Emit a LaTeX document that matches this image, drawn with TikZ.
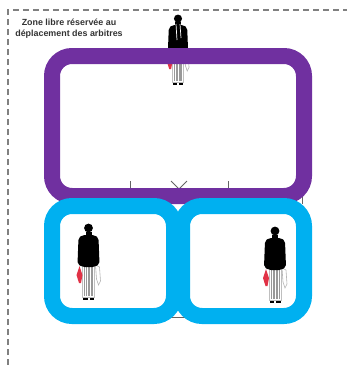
\documentclass[tikz,border=0pt]{standalone}
\usepackage{fontspec}
\setmainfont{Liberation Sans}
\definecolor{zonepurple}{RGB}{112,48,160}
\definecolor{zoneblue}{RGB}{0,176,240}
\definecolor{fieldgray}{RGB}{100,100,100}
\definecolor{flagred}{RGB}{225,50,70}
\tikzset{
  pics/arbitre/.style={code={
    % pieds, jambes, bras clair
    \fill[black] (-5.5,73) rectangle (-1,77);
    \fill[black] (1,73) rectangle (5.5,77);
    \fill[white,draw=gray!50,line width=.5] (-6,40) rectangle (6,74);
    \foreach \s in {-4,-2,-.5,1,2.5,4}
      \draw[gray!80,line width=.5] (\s,42) -- (\s,73);
    \draw[gray!60,line width=.6,fill=white] (7,42) -- (11,44) -- (12,58) -- (10,62) -- (8,56) -- cycle;
    % veste et tete
    \fill[black] (-3,9) rectangle (3,14);
    \fill[black] (0,5) circle (4.4);
    \fill[black,rounded corners=2] (-6,12) -- (6,12) -- (10,15) -- (11,41) -- (6,44) -- (-6,44) -- (-11,41) -- (-10,15) -- cycle;
    % main et drapeau
    \fill[flagred] (-9,43) -- (-6,52) -- (-7.5,60) -- (-9.5,60) -- (-12,52) -- cycle;
  }},
  zonebox/.style={draw=#1,line width=16,rounded corners=20,inner sep=0,fill=none},
  fieldline/.style={draw=fieldgray,line width=1},
  limite/.style={draw=gray,line width=1.2,dash pattern=on 6 off 4},
}
\begin{document}
\begin{tikzpicture}[x=1pt,y=-1pt]
  \useasboundingbox (0,0) rectangle (347,365);

  % Zone libre
  \draw[limite] (8,365) -- (8,10) -- (347,10);
  \node[align=center,font=\bfseries\fontsize{8.9}{11}\selectfont,text=black!80] (zonelibre) at (69,28.5)
    {Zone libre réservée au\\déplacement des arbitres};

  % Arbitre en haut
  \pic[scale=.92] at (178,14) {arbitre};
  \draw[white,line width=.7] (176,24) -- (177,40);
  \draw[white,line width=.7] (180,24) -- (181,38);

  % Lignes du terrain
  \foreach \x in {130.5,228,302}
    \draw[fieldline] (\x,181) -- (\x,204);
  \draw[fieldline] (171,181) -- (179,189) -- (187,181);
  \draw[fieldline] (170,317.5) -- (186,317.5);

  % Terrain
  \node[zonebox=zonepurple,minimum width=252,minimum height=140] (terrain) at (178,126) {};

  % Zones bleues
  \node[zonebox=zoneblue,minimum width=122,minimum height=110] (zonegauche) at (113,261) {};
  \node[zonebox=zoneblue,minimum width=122,minimum height=110] (zonedroite) at (243,261) {};

  % Arbitres dans les zones
  \pic at (88.5,223) {arbitre};
  \pic at (275,226) {arbitre};

\end{tikzpicture}
\end{document}
